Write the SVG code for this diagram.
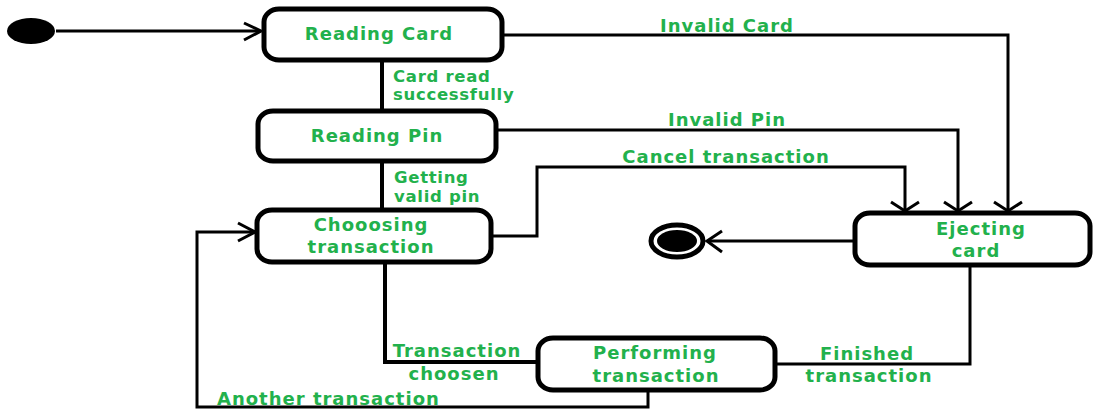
<svg xmlns="http://www.w3.org/2000/svg" width="1094" height="411" viewBox="0 0 1094 411">
<style>
.node{fill:#fff;stroke:#000;stroke-width:5}
.conn{fill:none;stroke:#000;stroke-width:3}
.thick{stroke-width:4}
.arrow{fill:none;stroke:#000;stroke-width:3;stroke-linejoin:miter}
text{font-family:"DejaVu Sans",Verdana,sans-serif;font-weight:bold;fill:#22b14c;letter-spacing:1px}
.t{font-size:18px;text-anchor:middle}
.l{font-size:18px;text-anchor:middle}
.s{font-size:16.5px;letter-spacing:0.7px}
.a{font-size:18px}
</style>
<rect width="1094" height="411" fill="#fff"/>
<g id="connectors">
<path class="conn" d="M56 31H260"/>
<path class="arrow" d="M244 23L261 31L244 40"/>
<path class="conn thick" d="M382 60V111"/>
<path class="conn thick" d="M382 161V210"/>
<path class="conn" d="M502 35H1008V210"/>
<path class="arrow" d="M994 202L1008 211L1022 202"/>
<path class="conn" d="M496 130H958V210"/>
<path class="arrow" d="M944 202L958 211L972 202"/>
<path class="conn" d="M491 236H537V167H905V210"/>
<path class="arrow" d="M891 202L905 211L919 202"/>
<path class="conn thick" d="M385 262V362H538"/>
<path class="conn" d="M648 390V407H197V232H255"/>
<path class="arrow" d="M238 223L255 232L238 241"/>
<path class="conn" d="M970 265V364H775"/>
<path class="conn" d="M855 241H708"/>
<path class="arrow" d="M722 231L707 241L722 252"/>
<text class="l" x="727" y="32">Invalid Card</text>
<text class="l" x="727" y="126">Invalid Pin</text>
<text class="l" x="726" y="163">Cancel transaction</text>
<text class="s" x="393" y="82">Card read</text>
<text class="s" x="393" y="100">successfully</text>
<text class="s" x="394" y="183">Getting</text>
<text class="s" x="394" y="202">valid pin</text>
<text class="l" x="457" y="357">Transaction</text>
<text class="l" x="454" y="380">choosen</text>
<text class="a" x="217" y="405">Another transaction</text>
<text class="l" x="867" y="360">Finished</text>
<text class="l" x="869" y="382">transaction</text>
</g>
<g id="initial">
<ellipse cx="31" cy="31" rx="24" ry="13" fill="#000"/>
</g>
<g id="reading-card">
<rect class="node" x="264" y="9" width="238" height="51" rx="15" ry="13"/>
<text class="t" x="379" y="40">Reading Card</text>
</g>
<g id="reading-pin">
<rect class="node" x="258" y="111" width="238" height="50" rx="15" ry="13"/>
<text class="t" x="377" y="142">Reading Pin</text>
</g>
<g id="choosing-transaction">
<rect class="node" x="257" y="210" width="234" height="52" rx="15" ry="13"/>
<text class="t" x="371" y="231">Chooosing</text>
<text class="t" x="371" y="253">transaction</text>
</g>
<g id="ejecting-card">
<rect class="node" x="855" y="213" width="235" height="52" rx="15" ry="13"/>
<text class="t" x="981" y="235">Ejecting</text>
<text class="t" x="976" y="257">card</text>
</g>
<g id="performing-transaction">
<rect class="node" x="538" y="338" width="237" height="52" rx="15" ry="13"/>
<text class="t" x="655" y="359">Performing</text>
<text class="t" x="656" y="382">transaction</text>
</g>
<g id="final">
<ellipse cx="677" cy="241" rx="26" ry="16" fill="#fff" stroke="#000" stroke-width="5"/>
<ellipse cx="677" cy="241" rx="20" ry="11" fill="#000"/>
</g>
</svg>
